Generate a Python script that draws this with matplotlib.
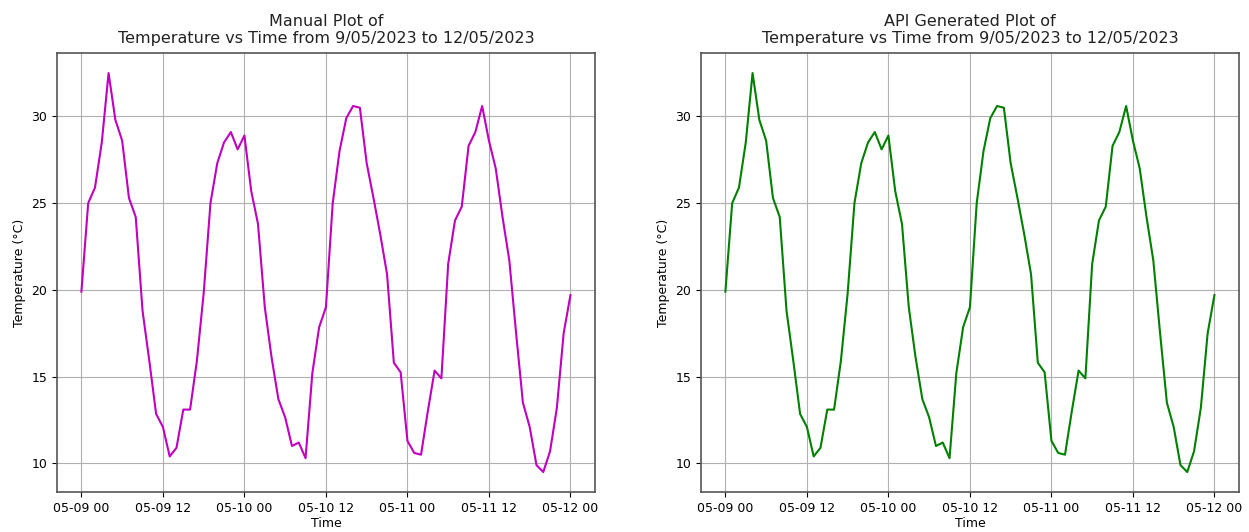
import datetime as dt
import matplotlib
matplotlib.use("Agg")
import matplotlib.pyplot as plt
import matplotlib.dates as mdates

# Hourly temperatures from 2023-05-09 00:00 to 2023-05-12 00:00
start = dt.datetime(2023, 5, 9, 0, 0)
temperature = [
    19.9, 25.0, 25.9, 28.5, 32.5, 29.8, 28.6, 25.3, 24.2, 18.8,
    15.9, 12.85, 12.1, 10.4, 10.9, 13.1, 13.1, 15.9, 19.8, 25.0,
    27.3, 28.5, 29.1, 28.1, 28.9, 25.7, 23.8, 19.0, 16.1, 13.7,
    12.65, 11.0, 11.2, 10.3, 15.2, 17.85, 19.0, 25.0, 28.0, 29.9,
    30.6, 30.5, 27.3, 25.3, 23.2, 20.9, 15.8, 15.25, 11.3, 10.6,
    10.5, 13.0, 15.35, 14.9, 21.5, 24.0, 24.8, 28.3, 29.1, 30.6,
    28.6, 27.0, 24.2, 21.7, 17.5, 13.5, 12.1, 9.9, 9.5, 10.7,
    13.2, 17.5, 19.7,
]
times = [start + dt.timedelta(hours=h) for h in range(len(temperature))]

titles = [
    "Manual Plot of\nTemperature vs Time from 9/05/2023 to 12/05/2023",
    "API Generated Plot of\nTemperature vs Time from 9/05/2023 to 12/05/2023",
]
line_colors = ["m", "g"]

fig = plt.figure(figsize=(12.49, 5.32), dpi=100)
axes = [
    fig.add_axes([0.0456, 0.0752, 0.4307, 0.825]),
    fig.add_axes([0.5612, 0.0752, 0.4307, 0.825]),
]

for ax, title, color in zip(axes, titles, line_colors):
    ax.plot(times, temperature, color=color, linewidth=1.5)
    ax.set_title(title, fontsize=11.5, pad=7, color="#222222")
    ax.set_xlabel("Time", fontsize=9, labelpad=2)
    ax.set_ylabel("Temperature (°C)", fontsize=9)
    ax.xaxis.set_major_locator(mdates.HourLocator(byhour=[0, 12]))
    ax.xaxis.set_major_formatter(mdates.DateFormatter("%m-%d %H"))
    ax.tick_params(labelsize=9)
    ax.grid(True)
    for spine in ax.spines.values():
        spine.set_color("#555555")
        spine.set_linewidth(1.2)

fig.savefig("out.png", dpi=100)
